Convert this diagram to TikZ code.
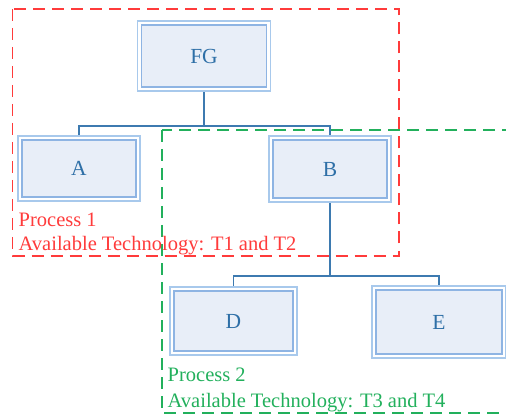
\documentclass[tikz,border=0pt]{standalone}
\usepackage{fontspec}
\setmainfont{Liberation Serif}
\usetikzlibrary{backgrounds}
\definecolor{boxfill}{HTML}{E8EEF8}
\definecolor{boxin}{HTML}{8EB4E3}
\definecolor{boxout}{HTML}{A8C9EC}
\definecolor{boxtext}{HTML}{2E6FA7}
\definecolor{linkblue}{HTML}{3D7AB0}
\definecolor{procred}{HTML}{FF3B3B}
\definecolor{procgreen}{HTML}{22B05C}
\tikzset{
  unit/.style={draw=boxin, fill=boxfill, line width=1.2pt, outer sep=0pt, inner sep=0pt,
    text=boxtext, font=\fontsize{21.5}{24}\selectfont},
  frame/.style={draw=boxout, fill=white, line width=1.3pt},
  link/.style={draw=linkblue, line width=1.5pt},
  reddash/.style={draw=procred, line width=1.5pt, dash pattern=on 12pt off 7pt},
  greendash/.style={draw=procgreen, line width=1.5pt, dash pattern=on 12pt off 7pt},
  redlabel/.style={text=procred, inner sep=0pt, anchor=base west, font=\fontsize{20.5}{24}\selectfont},
  greenlabel/.style={text=procgreen, inner sep=0pt, anchor=base west, font=\fontsize{20.5}{24}\selectfont}
}
\begin{document}
\begin{tikzpicture}[x=1pt,y=-1pt]
\useasboundingbox (0,0) rectangle (506,414);

% product tree
\node[unit, minimum width=125pt, minimum height=62pt] (fg) at (204,56) {FG};
\node[unit, minimum width=114pt, minimum height=57pt] (a) at (79,168.5) {A};
\node[unit, minimum width=114pt, minimum height=58pt] (b) at (330,169) {B};
\node[unit, minimum width=119pt, minimum height=60pt] (d) at (233.5,321) {D};
\node[unit, minimum width=126pt, minimum height=64pt] (e) at (439,322) {E};

\coordinate (j1) at (204,126);
\coordinate (j2) at (330,276);

\begin{pgfonlayer}{background}
  \draw[link] (fg.south) -- (j1);
  \draw[link] (a.north) |- (j1) -| (b.north);
  \draw[link] (b.south) -- (j2);
  \draw[link] (d.north) |- (j2) -| (e.north);
  % outer frame of each double-bordered box
  \foreach \n in {fg,a,b,d,e}
    \draw[frame] ([shift={(-4pt,4pt)}]\n.north west) rectangle ([shift={(4pt,-4pt)}]\n.south east);
\end{pgfonlayer}

% process regions
\draw[reddash] (12.5,9) rectangle (399,256);
\draw[greendash] (162,130) rectangle (530,413);

\node[redlabel] (p1a) at (18.5,226) {Process 1};
\node[redlabel] (p1b) at (18.5,251) {Available Technology: T1 and T2};
\node[greenlabel] (p2a) at (167.5,381) {Process 2};
\node[greenlabel] (p2b) at (167.5,407) {Available Technology: T3 and T4};
\end{tikzpicture}
\end{document}
